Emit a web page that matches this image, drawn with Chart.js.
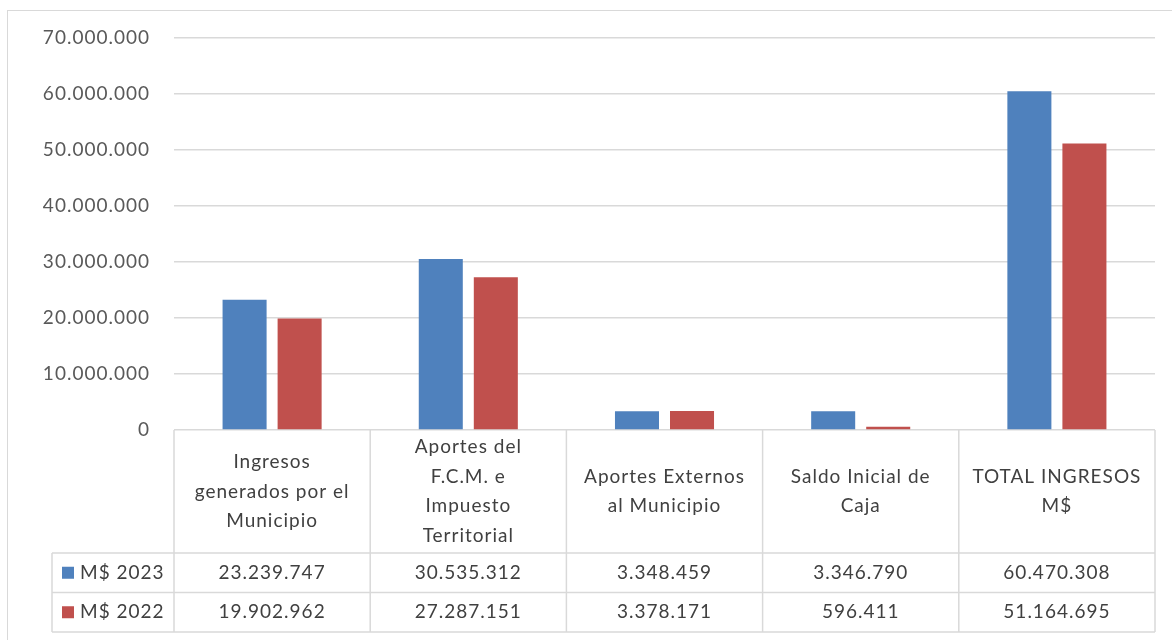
<!DOCTYPE html>
<html>
<head>
<meta charset="utf-8">
<script src="https://cdn.jsdelivr.net/npm/chart.js@4.4.1/dist/chart.umd.min.js"></script>
<style>
html, body { margin: 0; padding: 0; background: #fff; }
#wrap { position: relative; width: 1172px; height: 640px; overflow: hidden; }
#marco { position: absolute; left: 7px; top: 10px; width: 1200px; height: 700px; border: 1.5px solid #d9d9d9; }
canvas { position: absolute; left: 0; top: 0; }
</style>
</head>
<body>
<div id="wrap"><div id="marco"></div><canvas id="grafico" width="1172" height="640"></canvas></div>
<script>
// categorias (cada una partida en lineas como en la tabla)
const categorias = [
    ["Ingresos", "generados por el", "Municipio"],
    ["Aportes del", "F.C.M. e", "Impuesto", "Territorial"],
    ["Aportes Externos", "al Municipio"],
    ["Saldo Inicial de", "Caja"],
    ["TOTAL INGRESOS", "M$"]
];
const serie2023 = [23239747, 30535312, 3348459, 3346790, 60470308];
const serie2022 = [19902962, 27287151, 3378171, 596411, 51164695];
const nombres = ["M$ 2023", "M$ 2022"];
const colores = ["#4f81bd", "#c0504d"];

const fuente = "Lato, 'Open Sans', sans-serif";

function miles(v) {
    return String(Math.round(v)).replace(/\B(?=(\d{3})+(?!\d))/g, ".");
}

const tablaPlugin = {
    id: "tabla",
    beforeDraw(chart) {
        chart.ctx.letterSpacing = "1px";
    },
    afterDraw(chart) {
        const ctx = chart.ctx;
        const a = chart.chartArea;
        const n = categorias.length;
        const w = (a.right - a.left) / n;
        const top = a.bottom;
        const headH = 123, rowH = 39.5, legL = 52;
        const bottom = top + headH + rowH * 2;

        const linea = (x1, y1, x2, y2) => {
            ctx.beginPath();
            ctx.moveTo(x1, y1);
            ctx.lineTo(x2, y2);
            ctx.stroke();
        };

        ctx.save();
        ctx.strokeStyle = "#d9d9d9";
        ctx.lineWidth = 1.5;
        for (let i = 0; i <= n; i++) {
            const px = a.left + i * w;
            linea(px, top, px, bottom);
        }
        linea(legL, top + headH, legL, bottom);
        linea(legL, top + headH, a.right, top + headH);
        linea(legL, top + headH + rowH, a.right, top + headH + rowH);
        linea(legL, bottom, a.right, bottom);

        ctx.fillStyle = "#404040";
        ctx.font = "19px " + fuente;
        ctx.letterSpacing = "1px";
        ctx.textAlign = "center";
        ctx.textBaseline = "middle";

        // encabezados
        const lh = 29.5;
        categorias.forEach((lineas, i) => {
            const cx = chart.scales.x.getPixelForTick(i);
            const cy = top + headH / 2 - (lineas.length - 1) * lh / 2;
            lineas.forEach((t, k) => ctx.fillText(t, cx, cy + k * lh));
        });

        // filas de datos
        const series = [serie2023, serie2022];
        series.forEach((s, r) => {
            const cy = top + headH + rowH * r + rowH / 2;
            s.forEach((v, i) => {
                ctx.fillText(miles(v), chart.scales.x.getPixelForTick(i), cy);
            });
            ctx.fillStyle = colores[r];
            ctx.fillRect(62, cy - 6, 12, 12);
            ctx.fillStyle = "#404040";
            ctx.textAlign = "left";
            ctx.fillText(nombres[r], 80, cy);
            ctx.textAlign = "center";
        });
        ctx.restore();
    }
};

new Chart(document.getElementById("grafico"), {
    type: "bar",
    data: {
        labels: categorias.map(c => c.join(" ")),
        datasets: [
            { label: nombres[0], data: serie2023, backgroundColor: colores[0] },
            { label: nombres[1], data: serie2022, backgroundColor: colores[1] }
        ]
    },
    options: {
        responsive: false,
        animation: false,
        categoryPercentage: 0.561,
        barPercentage: 0.8,
        layout: { padding: { top: 38, right: 17, bottom: 202, left: 0 } },
        plugins: {
            legend: { display: false },
            tooltip: { enabled: false }
        },
        scales: {
            x: {
                grid: { display: false },
                border: { display: false },
                ticks: { display: false }
            },
            y: {
                min: 0,
                max: 70000000,
                afterFit(scale) { scale.width = 174; },
                border: { display: false },
                grid: { color: "#d9d9d9", lineWidth: 1.5, drawTicks: false },
                ticks: {
                    stepSize: 10000000,
                    padding: 24,
                    color: "#595959",
                    font: { family: fuente, size: 19 },
                    callback: v => miles(v)
                }
            }
        }
    },
    plugins: [tablaPlugin]
});
</script>
</body>
</html>
